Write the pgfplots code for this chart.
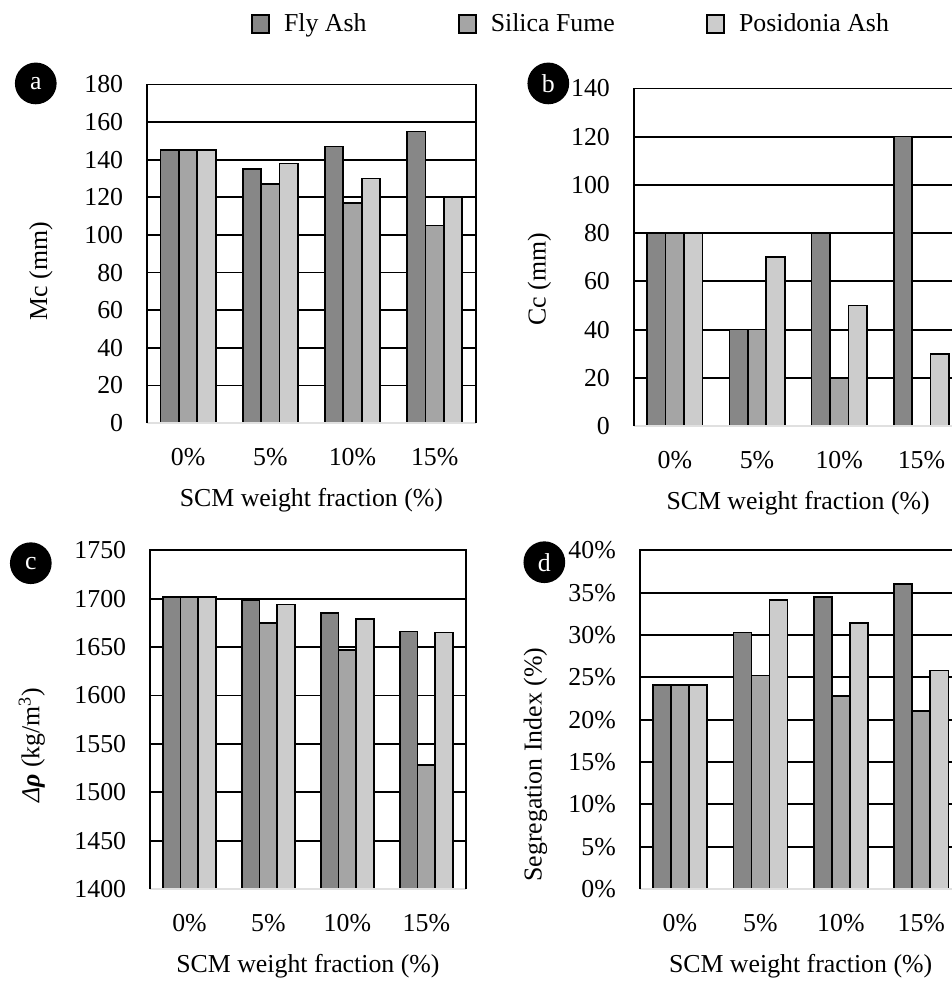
\documentclass[border=0pt]{standalone}
\usepackage{fontspec}
\setmainfont{Liberation Serif}
\usepackage{pgfplots}
\pgfplotsset{compat=1.18}

\definecolor{fly}{HTML}{878787}
\definecolor{sil}{HTML}{A5A5A5}
\definecolor{pos}{HTML}{CCCCCC}

\newcommand{\fs}{\fontsize{13}{15}\selectfont}
\newcommand{\frameit}{%
  \draw[black!12, line width=0.9pt] (rel axis cs:0,0) -- (rel axis cs:1,0);
  \draw[black, line width=0.9pt] (rel axis cs:0,0) -- (rel axis cs:0,1) -- (rel axis cs:1,1) -- (rel axis cs:1,0);}

\pgfplotsset{
  panel/.style={
    scale only axis,
    ybar, bar width=0.224,
    xmin=-0.5, xmax=3.5,
    xtick={0,1,2,3}, xticklabels={0\%,5\%,10\%,15\%},
    major tick length=0pt,
    ymajorgrids, grid style={black, line width=0.9pt},
    axis line style={draw=none},
    tick label style={font=\fs},
    label style={font=\fs},
    /pgf/number format/assume math mode=true,
    /pgf/number format/1000 sep={},
    scaled y ticks=false,
    yticklabel style={xshift=-8.5pt},
    xticklabel style={yshift=-9pt},
    xlabel={SCM weight fraction (\%)},
    xlabel style={at={(axis description cs:0.5,0)}, anchor=center, yshift=-39pt},
    clip mode=individual,
    legend image code/.code={\draw[##1, draw=black, line width=1pt] (0pt,-4.5pt) rectangle (8.5pt,4.5pt);},
  },
  fa/.style={fill=fly, draw=black, line width=0.85pt, bar shift=-0.224},
  sf/.style={fill=sil, draw=black, line width=0.85pt, bar shift=0},
  pa/.style={fill=pos, draw=black, line width=0.85pt, bar shift=0.224},
}

\begin{document}
\begin{tikzpicture}[trim right=479pt]

% ---------------- panel a ----------------
\begin{axis}[panel, at={(74pt,279.5pt)}, anchor=south west,
  width=165.5pt, height=170.5pt,
  ymin=0, ymax=180, ytick={0,20,...,180},
  ylabel={Mc (mm)},
  ylabel style={at={(axis description cs:-0.323,0.449)}, anchor=center},
  legend columns=3,
  legend style={draw=none, fill=none, font=\fs, at={(1.293,1.179)}, anchor=center,
    /tikz/every odd column/.append style={column sep=5pt},
    /tikz/every even column/.append style={column sep=44pt}},
]
\addplot[fa] coordinates {(0,145) (1,135) (2,147) (3,155)};
\addlegendentry{Fly Ash}
\addplot[sf] coordinates {(0,145) (1,127) (2,117) (3,105)};
\addlegendentry{Silica Fume}
\addplot[pa] coordinates {(0,145) (1,138) (2,130) (3,120)};
\addlegendentry{Posidonia Ash}
\frameit
\end{axis}

% ---------------- panel b ----------------
\begin{axis}[panel, at={(319pt,278pt)}, anchor=south west,
  width=165.5pt, height=170pt,
  ymin=0, ymax=140, ytick={0,20,...,140},
  ylabel={Cc (mm)},
  ylabel style={at={(axis description cs:-0.287,0.435)}, anchor=center},
]
\addplot[fa] coordinates {(0,80) (1,40) (2,80) (3,120)};
\addplot[sf] coordinates {(0,80) (1,40) (2,20)};
\addplot[pa] coordinates {(0,80) (1,70) (2,50) (3,30)};
\frameit
\end{axis}

% ---------------- panel c ----------------
\begin{axis}[panel, at={(75.5pt,45pt)}, anchor=south west,
  width=159pt, height=170.5pt,
  ymin=1400, ymax=1750, ytick={1400,1450,...,1750},
  ylabel={{\itshape Δ}{\bfseries\itshape ρ} (kg/m\textsuperscript{3})},
  ylabel style={at={(axis description cs:-0.374,0.425)}, anchor=center},
]
\addplot[fa] coordinates {(0,1702) (1,1698) (2,1685) (3,1666)};
\addplot[sf] coordinates {(0,1702) (1,1675) (2,1647) (3,1528)};
\addplot[pa] coordinates {(0,1702) (1,1694) (2,1679) (3,1665)};
\frameit
\end{axis}

% ---------------- panel d ----------------
\begin{axis}[panel, at={(322pt,45pt)}, anchor=south west,
  width=162pt, height=170.5pt,
  ymin=0, ymax=40, ytick={0,5,...,40},
  yticklabel={\pgfmathprintnumber{\tick}\%},
  ylabel={Segregation Index (\%)},
  ylabel style={at={(axis description cs:-0.324,0.367)}, anchor=center},
]
\addplot[fa] coordinates {(0,24.1) (1,30.3) (2,34.5) (3,36.0)};
\addplot[sf] coordinates {(0,24.1) (1,25.2) (2,22.8) (3,21.0)};
\addplot[pa] coordinates {(0,24.1) (1,34.1) (2,31.4) (3,25.8)};
\frameit
\end{axis}

% panel badges
\node[circle, fill=black, text=white, minimum size=21pt, inner sep=0pt, font=\fs] at (18pt,450.5pt) {a};
\node[circle, fill=black, text=white, minimum size=21pt, inner sep=0pt, font=\fs] at (276pt,450.5pt) {b};
\node[circle, fill=black, text=white, minimum size=21pt, inner sep=0pt, font=\fs] at (15.5pt,209pt) {c};
\node[circle, fill=black, text=white, minimum size=21pt, inner sep=0pt, font=\fs] at (274pt,209.5pt) {d};
\path (0,0) rectangle (479pt,492.5pt);
\end{tikzpicture}
\end{document}
